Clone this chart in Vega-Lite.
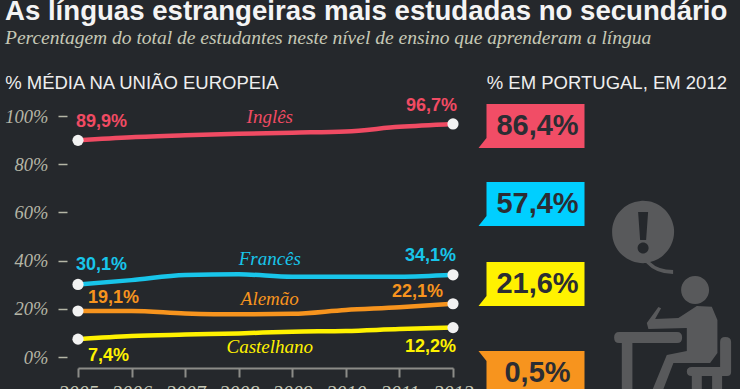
{"$schema":"https://vega.github.io/schema/vega-lite/v6.json","width":375,"height":241,"autosize":{"type":"none","contains":"content"},"padding":{"left":78,"right":287,"top":116,"bottom":32},"background":"#25282c","view":{"stroke":null},
"title":{"text":"As línguas estrangeiras mais estudadas no secundário","subtitle":"Percentagem do total de estudantes neste nível de ensino que aprenderam a língua","anchor":"start","frame":"group","dx":-73,"offset":26,"font":"Liberation Sans","fontSize":27.6,"fontWeight":"bold","color":"#f4f4f4","subtitleFont":"Liberation Serif","subtitleFontStyle":"italic","subtitleFontSize":19.5,"subtitleColor":"#c6c8b6","subtitlePadding":4},
"datasets":{"series":[
{"lingua":"Inglês","ano":2005,"valor":89.9,"rotulo":"89,9%"},{"lingua":"Inglês","ano":2006,"valor":91.2},{"lingua":"Inglês","ano":2007,"valor":92},{"lingua":"Inglês","ano":2008,"valor":92.6},{"lingua":"Inglês","ano":2009,"valor":93.1},{"lingua":"Inglês","ano":2010,"valor":93.6},{"lingua":"Inglês","ano":2011,"valor":95.5},{"lingua":"Inglês","ano":2012,"valor":96.7,"rotulo":"96,7%"},
{"lingua":"Francês","ano":2005,"valor":30.1,"rotulo":"30,1%"},{"lingua":"Francês","ano":2006,"valor":31.9},{"lingua":"Francês","ano":2007,"valor":34},{"lingua":"Francês","ano":2008,"valor":34.3},{"lingua":"Francês","ano":2009,"valor":33.3},{"lingua":"Francês","ano":2010,"valor":33.3},{"lingua":"Francês","ano":2011,"valor":33.3},{"lingua":"Francês","ano":2012,"valor":34.1,"rotulo":"34,1%"},
{"lingua":"Alemão","ano":2005,"valor":19.1,"rotulo":"19,1%"},{"lingua":"Alemão","ano":2006,"valor":19.1},{"lingua":"Alemão","ano":2007,"valor":18.1},{"lingua":"Alemão","ano":2008,"valor":17.7},{"lingua":"Alemão","ano":2009,"valor":17.9},{"lingua":"Alemão","ano":2010,"valor":19.5},{"lingua":"Alemão","ano":2011,"valor":20.6},{"lingua":"Alemão","ano":2012,"valor":22.1,"rotulo":"22,1%"},
{"lingua":"Castelhano","ano":2005,"valor":7.4,"rotulo":"7,4%"},{"lingua":"Castelhano","ano":2006,"valor":8.7},{"lingua":"Castelhano","ano":2007,"valor":9.3},{"lingua":"Castelhano","ano":2008,"valor":9.8},{"lingua":"Castelhano","ano":2009,"valor":10.5},{"lingua":"Castelhano","ano":2010,"valor":10.8},{"lingua":"Castelhano","ano":2011,"valor":11.6},{"lingua":"Castelhano","ano":2012,"valor":12.2,"rotulo":"12,2%"}],
"portugal":[{"lingua":"Inglês","pt":"86,4%"},{"lingua":"Francês","pt":"57,4%"},{"lingua":"Castelhano","pt":"21,6%"},{"lingua":"Alemão","pt":"0,5%"}],
"cabecalhos":[{"id":"ue","texto":"% MÉDIA NA UNIÃO EUROPEIA"},{"id":"pt","texto":"% EM PORTUGAL, EM 2012"}],
"icone":[{"nome":"aluno"}]},
"layer":[
{"data":{"name":"series"},
"encoding":{"x":{"field":"ano","type":"quantitative","scale":{"domain":[2005,2012],"nice":false,"zero":false},"axis":{"values":[2005,2006,2007,2008,2009,2010,2011,2012],"format":"d","title":null,"offset":11,"grid":false,"domainColor":"#8c8c88","domainWidth":2,"tickColor":"#8c8c88","tickWidth":2,"tickSize":9,"labelFont":"Liberation Serif","labelFontStyle":"italic","labelFontSize":20,"labelColor":"#c6c8b6","labelPadding":6,"labelOverlap":false,"labelBound":false,"labelFlush":false}},
"y":{"field":"valor","type":"quantitative","scale":{"domain":[0,100],"nice":false},"axis":{"values":[0,20,40,60,80,100],"labelExpr":"datum.value+'%'","title":null,"offset":11,"grid":false,"domain":false,"tickColor":"#b5b6a6","tickWidth":1.5,"tickSize":9,"labelFont":"Liberation Serif","labelFontStyle":"italic","labelFontSize":18.5,"labelColor":"#b5b6a6","labelPadding":10}},
"color":{"field":"lingua","type":"nominal","legend":null,"scale":{"domain":["Inglês","Francês","Alemão","Castelhano"],"range":["#f04b63","#18c5ea","#f7941e","#fff200"]}}},
"layer":[
{"mark":{"type":"line","strokeWidth":4.5,"interpolate":"monotone"}},
{"transform":[{"filter":"isValid(datum.rotulo)"}],"mark":{"type":"point","filled":true,"opacity":1,"size":125},"encoding":{"color":{"value":"#f2f2f2"}}},
{"transform":[{"filter":"datum.rotulo=='89,9%'"}],"mark":{"type":"text","font":"Liberation Sans","fontWeight":"bold","fontSize":18,"align":"left","dx":-2,"dy":-18},"encoding":{"text":{"field":"rotulo"}}},
{"transform":[{"filter":"datum.rotulo=='96,7%'"}],"mark":{"type":"text","font":"Liberation Sans","fontWeight":"bold","fontSize":18,"align":"right","dx":4,"dy":-18},"encoding":{"text":{"field":"rotulo"}}},
{"transform":[{"filter":"datum.rotulo=='30,1%'"}],"mark":{"type":"text","font":"Liberation Sans","fontWeight":"bold","fontSize":18,"align":"left","dx":-2,"dy":-19},"encoding":{"text":{"field":"rotulo"}}},
{"transform":[{"filter":"datum.rotulo=='34,1%'"}],"mark":{"type":"text","font":"Liberation Sans","fontWeight":"bold","fontSize":18,"align":"right","dx":3,"dy":-19},"encoding":{"text":{"field":"rotulo"}}},
{"transform":[{"filter":"datum.rotulo=='19,1%'"}],"mark":{"type":"text","font":"Liberation Sans","fontWeight":"bold","fontSize":18,"align":"left","dx":10,"dy":-13},"encoding":{"text":{"field":"rotulo"}}},
{"transform":[{"filter":"datum.rotulo=='22,1%'"}],"mark":{"type":"text","font":"Liberation Sans","fontWeight":"bold","fontSize":18,"align":"right","dx":-10,"dy":-12},"encoding":{"text":{"field":"rotulo"}}},
{"transform":[{"filter":"datum.rotulo=='7,4%'"}],"mark":{"type":"text","font":"Liberation Sans","fontWeight":"bold","fontSize":18,"align":"left","dx":10,"dy":17},"encoding":{"text":{"field":"rotulo"}}},
{"transform":[{"filter":"datum.rotulo=='12,2%'"}],"mark":{"type":"text","font":"Liberation Sans","fontWeight":"bold","fontSize":18,"align":"right","dx":3,"dy":19},"encoding":{"text":{"field":"rotulo"}}},
{"transform":[{"filter":"datum.ano==2005 && datum.lingua=='Inglês'"}],"mark":{"type":"text","font":"Liberation Serif","fontStyle":"italic","fontSize":19},"encoding":{"text":{"field":"lingua"},"x":{"datum":2008.58},"y":{"datum":99.6}}},
{"transform":[{"filter":"datum.ano==2005 && datum.lingua=='Francês'"}],"mark":{"type":"text","font":"Liberation Serif","fontStyle":"italic","fontSize":19},"encoding":{"text":{"field":"lingua"},"x":{"datum":2008.58},"y":{"datum":40.6}}},
{"transform":[{"filter":"datum.ano==2005 && datum.lingua=='Alemão'"}],"mark":{"type":"text","font":"Liberation Serif","fontStyle":"italic","fontSize":19},"encoding":{"text":{"field":"lingua"},"x":{"datum":2008.58},"y":{"datum":24}}},
{"transform":[{"filter":"datum.ano==2005 && datum.lingua=='Castelhano'"}],"mark":{"type":"text","font":"Liberation Serif","fontStyle":"italic","fontSize":19},"encoding":{"text":{"field":"lingua"},"x":{"datum":2008.58},"y":{"datum":4.1}}}
]},
{"data":{"name":"cabecalhos"},"transform":[{"filter":"datum.id=='ue'"}],"mark":{"type":"text","font":"Liberation Sans","fontSize":18.5,"align":"left"},"encoding":{"text":{"field":"texto"},"x":{"datum":2003.64},"y":{"datum":113.7},"color":{"value":"#eeeeee"}}},
{"data":{"name":"cabecalhos"},"transform":[{"filter":"datum.id=='pt'"}],"mark":{"type":"text","font":"Liberation Sans","fontSize":18.5,"align":"left"},"encoding":{"text":{"field":"texto"},"x":{"datum":2012.63},"y":{"datum":113.7},"color":{"value":"#eeeeee"}}},
{"data":{"name":"portugal"},"transform":[{"filter":"datum.lingua=='Inglês'"}],"mark":{"type":"point","filled":true,"opacity":1,"size":4,"shape":"M-57,22L-49,12L-49,-22L49,-22L49,22Z"},"encoding":{"x":{"datum":2013.54},"y":{"datum":95.85},"color":{"value":"#f14d66"}}},
{"data":{"name":"portugal"},"transform":[{"filter":"datum.lingua=='Francês'"}],"mark":{"type":"point","filled":true,"opacity":1,"size":4,"shape":"M-57,22L-49,12L-49,-22L49,-22L49,22Z"},"encoding":{"x":{"datum":2013.54},"y":{"datum":63.5},"color":{"value":"#00cfff"}}},
{"data":{"name":"portugal"},"transform":[{"filter":"datum.lingua=='Castelhano'"}],"mark":{"type":"point","filled":true,"opacity":1,"size":4,"shape":"M-57,22L-49,12L-49,-22L49,-22L49,22Z"},"encoding":{"x":{"datum":2013.54},"y":{"datum":30.3},"color":{"value":"#fff200"}}},
{"data":{"name":"portugal"},"transform":[{"filter":"datum.lingua=='Alemão'"}],"mark":{"type":"point","filled":true,"opacity":1,"size":4,"shape":"M-57,-22L-49,-12L-49,22L49,22L49,-22Z"},"encoding":{"x":{"datum":2013.54},"y":{"datum":-6.64},"color":{"value":"#f7941e"}}},
{"data":{"name":"portugal"},"transform":[{"filter":"datum.lingua=='Inglês'"}],"mark":{"type":"text","font":"Liberation Sans","fontWeight":"bold","fontSize":29,"dx":2},"encoding":{"text":{"field":"pt"},"x":{"datum":2013.54},"y":{"datum":95.85},"color":{"value":"#2b2d33"}}},
{"data":{"name":"portugal"},"transform":[{"filter":"datum.lingua=='Francês'"}],"mark":{"type":"text","font":"Liberation Sans","fontWeight":"bold","fontSize":29,"dx":2},"encoding":{"text":{"field":"pt"},"x":{"datum":2013.54},"y":{"datum":63.5},"color":{"value":"#2b2d33"}}},
{"data":{"name":"portugal"},"transform":[{"filter":"datum.lingua=='Castelhano'"}],"mark":{"type":"text","font":"Liberation Sans","fontWeight":"bold","fontSize":29,"dx":2},"encoding":{"text":{"field":"pt"},"x":{"datum":2013.54},"y":{"datum":30.3},"color":{"value":"#2b2d33"}}},
{"data":{"name":"portugal"},"transform":[{"filter":"datum.lingua=='Alemão'"}],"mark":{"type":"text","font":"Liberation Sans","fontWeight":"bold","fontSize":29,"dx":2},"encoding":{"text":{"field":"pt"},"x":{"datum":2013.54},"y":{"datum":-6.64},"color":{"value":"#2b2d33"}}},
{"data":{"name":"icone"},"mark":{"type":"point","filled":true,"opacity":1,"size":4,"shape":"M-60,-68A31,31 0 1 1 -22,-38Q-14,-30 1,-30L1,-26Q-16,-26 -26,-37A31,31 0 0 1 -60,-68ZM9,-10A14,14 0 1 1 37,-10A14,14 0 1 1 9,-10ZM24.7,6L39.7,6.7L45.3,20L45.3,53L38,63L1.3,63L-8.7,89L-19.3,89L-5.3,55L14.7,51L14.7,28L-23.7,29L-25.3,23L-13.7,7L-11,8.3L-17,19L6.3,18ZM-53,32L5,32Q10,32 10,37.5Q10,43 5,43L-39.7,43L-39.7,89L-50.3,89L-50.3,43L-53,43Q-58,43 -58,37.5Q-58,32 -53,32ZM48,42Q48,37 53,37Q59,37 59,42L59,72Q59,76 55,76L50,76L50,89L40,89L40,76L29.7,76L29.7,89L19.7,89L19.7,76Q14.7,76 14.7,71.5Q14.7,67 19.7,67L48,67Z"},"encoding":{"x":{"datum":2016.09},"y":{"datum":23.65},"color":{"value":"#58595b"}}},
{"data":{"name":"icone"},"mark":{"type":"point","filled":true,"opacity":1,"size":4,"shape":"M-34,-88L-24,-88L-26,-60L-32,-60ZM-34.5,-52A5.5,5.5 0 1 1 -23.5,-52A5.5,5.5 0 1 1 -34.5,-52Z"},"encoding":{"x":{"datum":2016.09},"y":{"datum":23.65},"color":{"value":"#25282c"}}}
]}
